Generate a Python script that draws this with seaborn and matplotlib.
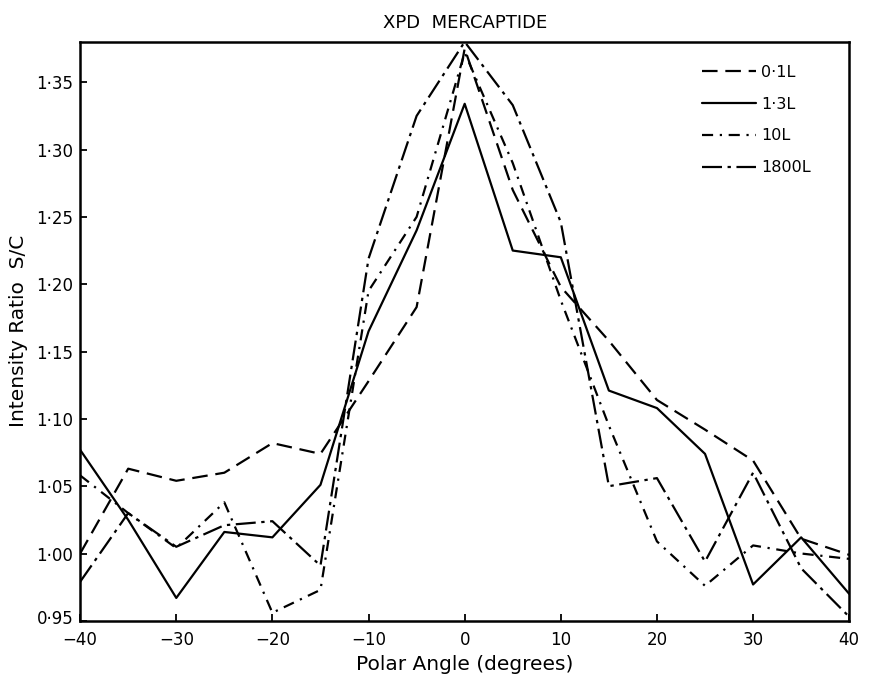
import matplotlib
matplotlib.use("Agg")
import matplotlib.pyplot as plt
import matplotlib.transforms as mtransforms
import seaborn as sns
import pandas as pd
from matplotlib.ticker import FuncFormatter

# ---- data ----
angles = [-40, -35, -30, -25, -20, -15, -10, -5, 0, 5, 10, 15, 20, 25, 30, 35, 40]
exposures = ["0·1L", "1·3L", "10L", "1800L"]
ratio_01L = [1.000, 1.063, 1.054, 1.060, 1.082, 1.074, 1.128, 1.183, 1.375,
             1.270, 1.198, 1.158, 1.114, 1.092, 1.069, 1.011, 0.999]
ratio_13L = [1.077, 1.025, 0.967, 1.016, 1.012, 1.051, 1.165, 1.240, 1.334,
             1.225, 1.220, 1.121, 1.108, 1.074, 0.977, 1.012, 0.970]
ratio_10L = [1.058, 1.030, 1.004, 1.038, 0.956, 0.973, 1.195, 1.250, 1.372,
             1.290, 1.188, 1.095, 1.009, 0.976, 1.006, 1.000, 0.996]
ratio_1800L = [0.979, 1.030, 1.005, 1.021, 1.024, 0.991, 1.219, 1.325, 1.380,
               1.333, 1.246, 1.050, 1.056, 0.994, 1.060, 0.989, 0.953]
y_ticks = [0.95, 1.00, 1.05, 1.10, 1.15, 1.20, 1.25, 1.30, 1.35]
x_ticks = [-40, -30, -20, -10, 0, 10, 20, 30, 40]

series = [ratio_01L, ratio_13L, ratio_10L, ratio_1800L]
rows = []
for name, vals in zip(exposures, series):
    for a, v in zip(angles, vals):
        rows.append({"angle": a, "ratio": v, "exposure": name})
df = pd.DataFrame(rows)

sns.set_style("ticks")
plt.rcParams["font.family"] = ["DejaVu Sans"]
plt.rcParams["text.color"] = "black"
plt.rcParams["axes.labelcolor"] = "black"

fig = plt.figure(figsize=(8.71, 6.86), dpi=100)
ax = fig.add_axes([0.092, 0.095, 0.883, 0.844])

dashes = {
    "0·1L": (7, 3.5),
    "1·3L": "",
    "10L": (5, 3, 1, 3),
    "1800L": (9, 2.5, 1.5, 2.5),
}
sns.lineplot(data=df, x="angle", y="ratio", hue="exposure", style="exposure",
             hue_order=exposures, style_order=exposures,
             palette=["black"] * 4, dashes=dashes, errorbar=None,
             linewidth=1.6, ax=ax, estimator=None, sort=False)

ax.set_xlim(-40, 40)
ax.set_ylim(0.95, 1.38)
ax.set_xticks(x_ticks)
ax.set_yticks(y_ticks)
ax.xaxis.set_major_formatter(FuncFormatter(lambda v, p: f"{v:.0f}".replace("-", "\u2212")))
ax.yaxis.set_major_formatter(FuncFormatter(lambda v, p: f"{v:.2f}".replace(".", "·")))
ax.tick_params(direction="in", length=5, width=1.3, labelsize=12, colors="black")
ax.tick_params(axis="x", pad=7)
ax.tick_params(axis="y", pad=5)

# lift the bottom y label slightly so it clears the -40 label (as in the reference)
ylabels = ax.get_yticklabels()
ylabels[0].set_transform(ylabels[0].get_transform() +
                         mtransforms.ScaledTranslation(0, 3 / 72, fig.dpi_scale_trans))

for s in ax.spines.values():
    s.set_visible(True)
    s.set_linewidth(1.8)
    s.set_color("black")

ax.set_xlabel("Polar Angle (degrees)", fontsize=14.5, labelpad=5, color="black")
ax.set_ylabel("Intensity Ratio  S/C", fontsize=14.5, labelpad=6, color="black")
ax.set_title("XPD  MERCAPTIDE", fontsize=13, pad=10, color="black")

handles, labels = ax.get_legend_handles_labels()
leg = ax.legend(handles, labels, loc="upper left", bbox_to_anchor=(0.79, 0.985),
                frameon=False, handlelength=3.4, labelspacing=1.05, fontsize=11.5,
                handletextpad=0.3)
for t in leg.get_texts():
    t.set_color("black")

fig.savefig("out.png", dpi=100, facecolor="white")
